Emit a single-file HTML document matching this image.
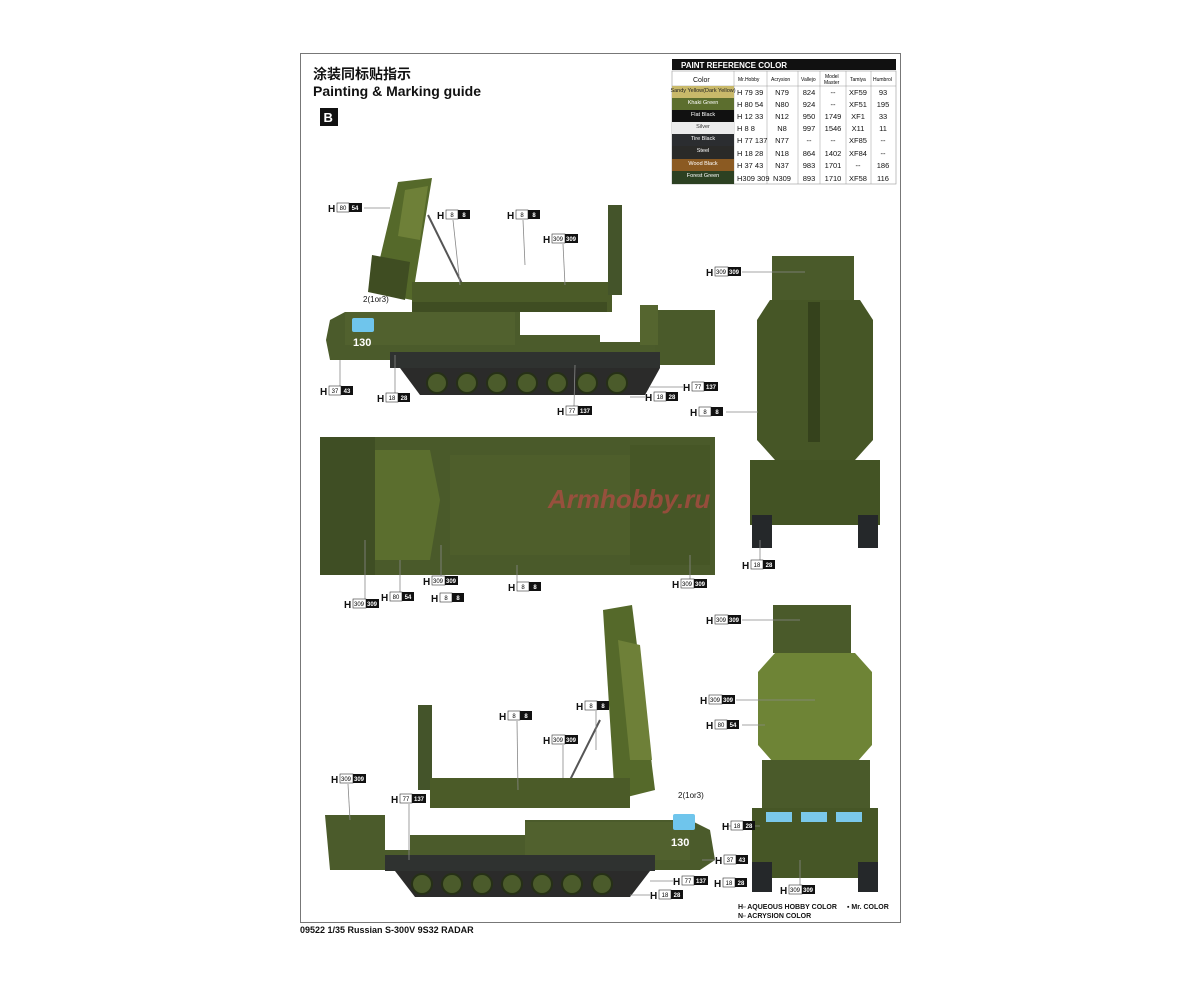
<!DOCTYPE html>
<html><head><meta charset="utf-8"><style>
body{margin:0;background:#fff;}
svg{display:block;font-family:"Liberation Sans","Noto Sans CJK SC",sans-serif;}
.l{font-size:10px;font-weight:bold;fill:#111}
.n{font-size:6px;fill:#000}
.nw{font-size:6px;fill:#fff;font-weight:bold}
.t{font-size:7px;fill:#111}
.ln{stroke:#888;stroke-width:0.8;fill:none}
</style></head><body>
<svg width="1200" height="982" viewBox="0 0 1200 982" xmlns="http://www.w3.org/2000/svg">
<rect x="300.5" y="53.5" width="600" height="869" fill="#fff" stroke="#777" stroke-width="1"/>
<text x="313" y="79" font-size="14" font-weight="bold" fill="#111">涂装同标贴指示</text>
<text x="313" y="96" font-size="14" font-weight="bold" fill="#111">Painting &amp; Marking guide</text>
<rect x="320" y="108" width="18" height="18" fill="#111"/><text x="323.5" y="122" font-size="13" font-weight="bold" fill="#fff">B</text>

<!-- table -->
<g>
<rect x="672" y="59" width="224" height="11" fill="#111"/>
<text x="681" y="68" font-size="8" font-weight="bold" fill="#fff">PAINT  REFERENCE COLOR</text>
<rect x="672" y="71" width="224" height="113" fill="#fff" stroke="#999" stroke-width="0.6"/>
<g stroke="#999" stroke-width="0.5">
<line x1="734" y1="71" x2="734" y2="184"/><line x1="767" y1="71" x2="767" y2="184"/><line x1="798" y1="71" x2="798" y2="184"/><line x1="820" y1="71" x2="820" y2="184"/><line x1="846" y1="71" x2="846" y2="184"/><line x1="871" y1="71" x2="871" y2="184"/>
<line x1="672" y1="86" x2="896" y2="86"/>
</g>
<text x="693" y="82" class="t">Color</text><text x="738" y="81" font-size="5">Mr.Hobby</text><text x="771" y="81" font-size="5">Acrysion</text><text x="801" y="81" font-size="5">Vallejo</text><text x="825" y="78" font-size="5">Model</text><text x="824" y="84" font-size="5">Master</text><text x="850" y="81" font-size="5">Tamiya</text><text x="873" y="81" font-size="5">Humbrol</text>
<rect x="672" y="86" width="62" height="12" fill="#c9b96a"/>
<rect x="672" y="98" width="62" height="12" fill="#5c6e2e"/>
<rect x="672" y="110" width="62" height="12" fill="#111"/>
<rect x="672" y="122" width="62" height="12" fill="#ececec"/>
<rect x="672" y="134" width="62" height="12" fill="#2b2d30"/>
<rect x="672" y="146" width="62" height="13" fill="#2a2a28"/>
<rect x="672" y="159" width="62" height="12" fill="#8b5a22"/>
<rect x="672" y="171" width="62" height="13" fill="#2c4122"/>
<g font-size="5.5" text-anchor="middle">
<text x="703" y="92" fill="#222">Sandy Yellow(Dark Yellow)</text>
<text x="703" y="104" fill="#fff">Khaki Green</text>
<text x="703" y="116" fill="#fff">Flat Black</text>
<text x="703" y="128" fill="#333">Silver</text>
<text x="703" y="140" fill="#fff">Tire Black</text>
<text x="703" y="152" fill="#fff">Steel</text>
<text x="703" y="165" fill="#fff">Wood Black</text>
<text x="703" y="177" fill="#fff">Forest Green</text>
</g>
<g font-size="7.5" fill="#111" text-anchor="middle">
<text x="782" y="95">N79</text><text x="809" y="95">824</text><text x="833" y="95">--</text><text x="858" y="95">XF59</text><text x="883" y="95">93</text>
<text x="782" y="107">N80</text><text x="809" y="107">924</text><text x="833" y="107">--</text><text x="858" y="107">XF51</text><text x="883" y="107">195</text>
<text x="782" y="119">N12</text><text x="809" y="119">950</text><text x="833" y="119">1749</text><text x="858" y="119">XF1</text><text x="883" y="119">33</text>
<text x="782" y="131">N8</text><text x="809" y="131">997</text><text x="833" y="131">1546</text><text x="858" y="131">X11</text><text x="883" y="131">11</text>
<text x="782" y="143">N77</text><text x="809" y="143">--</text><text x="833" y="143">--</text><text x="858" y="143">XF85</text><text x="883" y="143">--</text>
<text x="782" y="156">N18</text><text x="809" y="156">864</text><text x="833" y="156">1402</text><text x="858" y="156">XF84</text><text x="883" y="156">--</text>
<text x="782" y="168">N37</text><text x="809" y="168">983</text><text x="833" y="168">1701</text><text x="858" y="168">--</text><text x="883" y="168">186</text>
<text x="782" y="181">N309</text><text x="809" y="181">893</text><text x="833" y="181">1710</text><text x="858" y="181">XF58</text><text x="883" y="181">116</text>
</g>
<g font-size="7.5" fill="#111">
<text x="737" y="95">H 79 39</text><text x="737" y="107">H 80 54</text><text x="737" y="119">H 12 33</text><text x="737" y="131">H 8 8</text><text x="737" y="143">H 77 137</text><text x="737" y="156">H 18 28</text><text x="737" y="168">H 37 43</text><text x="737" y="181">H309 309</text>
</g>
</g>

<!-- ===== SIDE VIEW 1 ===== -->
<g>
<!-- radar panel -->
<polygon points="398,182 432,178 412,300 372,292" fill="#55692a"/>
<polygon points="405,190 428,186 420,240 398,236" fill="#6e8038"/>
<polygon points="372,255 410,262 405,300 368,292" fill="#3f4d22"/>
<line x1="428" y1="215" x2="470" y2="300" stroke="#555" stroke-width="2"/>
<!-- beam -->
<rect x="412" y="282" width="200" height="30" fill="#4b5b28"/>
<rect x="412" y="302" width="195" height="10" fill="#3f4d22"/>
<rect x="608" y="205" width="14" height="90" fill="#44542a"/>
<!-- hull -->
<polygon points="330,320 345,312 520,312 520,335 600,335 600,342 660,342 662,360 330,360 326,340" fill="#4b5b2b"/>
<rect x="345" y="312" width="170" height="33" fill="#51612e"/>
<rect x="655" y="310" width="60" height="55" fill="#4a5a2a"/>
<rect x="640" y="305" width="18" height="40" fill="#55652f"/>
<rect x="352" y="318" width="22" height="14" rx="2" fill="#6fc5ec"/>
<text x="353" y="346" font-size="11" font-weight="bold" fill="#fff">130</text>
<!-- skirt -->
<rect x="390" y="352" width="270" height="16" fill="#2f3230"/>
<polygon points="400,368 660,368 645,395 420,395" fill="#2b2b2a"/>
<g fill="#4b5b2b" stroke="#263016" stroke-width="2">
<circle cx="437" cy="383" r="10"/><circle cx="467" cy="383" r="10"/><circle cx="497" cy="383" r="10"/><circle cx="527" cy="383" r="10"/><circle cx="557" cy="383" r="10"/><circle cx="587" cy="383" r="10"/><circle cx="617" cy="383" r="10"/>
</g>
</g>

<!-- ===== FRONT VIEW 1 ===== -->
<g>
<rect x="772" y="256" width="82" height="46" fill="#4a5a2a"/>
<polygon points="770,300 860,300 873,320 873,440 855,460 775,460 757,440 757,320" fill="#465626"/>
<rect x="808" y="302" width="12" height="140" fill="#35421c"/>
<rect x="750" y="460" width="130" height="65" fill="#435324"/>
<rect x="752" y="515" width="20" height="33" fill="#25282a"/><rect x="858" y="515" width="20" height="33" fill="#25282a"/>
</g>

<!-- ===== TOP VIEW ===== -->
<g>
<rect x="320" y="437" width="395" height="138" fill="#4a5a2a"/>
<rect x="320" y="437" width="55" height="138" fill="#3f4e24"/>
<polygon points="375,450 430,450 440,500 430,560 375,560" fill="#5b6e2e"/>
<rect x="450" y="455" width="180" height="100" fill="#4e5e2b"/>
<rect x="630" y="445" width="80" height="120" fill="#465626"/>
<text x="548" y="508" font-size="26" font-style="italic" font-weight="bold" fill="#c8484a" opacity="0.6">Armhobby.ru</text>
</g>

<!-- ===== SIDE VIEW 2 ===== -->
<g>
<polygon points="603,610 632,605 655,790 615,800" fill="#55692a"/>
<polygon points="618,640 640,645 652,760 630,760" fill="#6e8038"/>
<line x1="600" y1="720" x2="560" y2="800" stroke="#555" stroke-width="2"/>
<rect x="418" y="705" width="14" height="85" fill="#44542a"/>
<rect x="430" y="778" width="200" height="30" fill="#4b5b28"/>
<polygon points="325,815 385,815 385,850 410,850 410,835 525,835 525,820 690,820 710,830 715,860 700,870 330,870" fill="#4b5b2b"/>
<rect x="525" y="822" width="165" height="38" fill="#51612e"/>
<rect x="673" y="814" width="22" height="16" rx="2" fill="#6fc5ec"/>
<text x="671" y="846" font-size="11" font-weight="bold" fill="#fff">130</text>
<rect x="385" y="855" width="270" height="16" fill="#2f3230"/>
<polygon points="395,871 650,871 630,897 415,897" fill="#2b2b2a"/>
<g fill="#4b5b2b" stroke="#263016" stroke-width="2">
<circle cx="422" cy="884" r="10"/><circle cx="452" cy="884" r="10"/><circle cx="482" cy="884" r="10"/><circle cx="512" cy="884" r="10"/><circle cx="542" cy="884" r="10"/><circle cx="572" cy="884" r="10"/><circle cx="602" cy="884" r="10"/>
</g>
</g>

<!-- ===== FRONT VIEW 2 ===== -->
<g>
<rect x="773" y="605" width="78" height="48" fill="#4a5a2a"/>
<polygon points="775,653 855,653 872,672 872,745 850,770 780,770 758,745 758,672" fill="#6e8436"/>
<rect x="762" y="760" width="108" height="50" fill="#4a5a2a"/>
<rect x="752" y="808" width="126" height="70" fill="#465626"/>
<rect x="766" y="812" width="26" height="10" fill="#7ac8ea"/><rect x="801" y="812" width="26" height="10" fill="#7ac8ea"/><rect x="836" y="812" width="26" height="10" fill="#7ac8ea"/>
<rect x="752" y="862" width="20" height="30" fill="#25282a"/><rect x="858" y="862" width="20" height="30" fill="#25282a"/>
</g>

<!-- leader lines -->
<g class="ln">
<line x1="364" y1="208" x2="390" y2="208"/><line x1="453" y1="220" x2="460" y2="285"/><line x1="523" y1="220" x2="525" y2="265"/><line x1="563" y1="244" x2="565" y2="285"/>
<line x1="340" y1="386" x2="340" y2="360"/><line x1="395" y1="393" x2="395" y2="355"/><line x1="574" y1="406" x2="575" y2="365"/><line x1="645" y1="397" x2="630" y2="397"/><line x1="683" y1="387" x2="650" y2="387"/>
<line x1="742" y1="272" x2="805" y2="272"/><line x1="726" y1="412" x2="758" y2="412"/><line x1="760" y1="560" x2="760" y2="540"/>
<line x1="365" y1="599" x2="365" y2="540"/><line x1="400" y1="592" x2="400" y2="560"/><line x1="441" y1="576" x2="441" y2="545"/><line x1="517" y1="582" x2="517" y2="565"/><line x1="690" y1="579" x2="690" y2="555"/>
<line x1="742" y1="620" x2="800" y2="620"/><line x1="736" y1="700" x2="815" y2="700"/><line x1="742" y1="725" x2="765" y2="725"/>
<line x1="517" y1="721" x2="518" y2="790"/><line x1="596" y1="711" x2="596" y2="750"/><line x1="563" y1="745" x2="563" y2="778"/><line x1="348" y1="784" x2="350" y2="820"/><line x1="409" y1="804" x2="409" y2="860"/>
<line x1="722" y1="826" x2="760" y2="826"/><line x1="715" y1="860" x2="702" y2="860"/><line x1="673" y1="881" x2="650" y2="881"/><line x1="650" y1="895" x2="630" y2="895"/><line x1="800" y1="886" x2="800" y2="860"/>
</g>

<!-- labels -->
<g class="l">
<text x="328" y="212">H</text><text x="437" y="219">H</text><text x="507" y="219">H</text><text x="543" y="243">H</text>
<text x="320" y="395">H</text><text x="377" y="402">H</text><text x="557" y="415">H</text><text x="645" y="401">H</text><text x="683" y="391">H</text>
<text x="706" y="276">H</text><text x="690" y="416">H</text><text x="742" y="569">H</text>
<text x="344" y="608">H</text><text x="381" y="601">H</text><text x="423" y="585">H</text><text x="431" y="602">H</text><text x="508" y="591">H</text><text x="672" y="588">H</text>
<text x="706" y="624">H</text><text x="700" y="704">H</text><text x="706" y="729">H</text>
<text x="499" y="720">H</text><text x="576" y="710">H</text><text x="543" y="744">H</text><text x="331" y="783">H</text><text x="391" y="803">H</text>
<text x="722" y="830">H</text><text x="715" y="864">H</text><text x="673" y="885">H</text><text x="714" y="887">H</text><text x="650" y="899">H</text><text x="780" y="894">H</text>
</g>
<g>
<!-- box pairs: white then black -->
<g fill="#fff" stroke="#333" stroke-width="0.6">
<rect x="337" y="203" width="12" height="9"/><rect x="446" y="210" width="12" height="9"/><rect x="516" y="210" width="12" height="9"/><rect x="552" y="234" width="13" height="9"/>
<rect x="329" y="386" width="12" height="9"/><rect x="386" y="393" width="12" height="9"/><rect x="566" y="406" width="12" height="9"/><rect x="654" y="392" width="12" height="9"/><rect x="692" y="382" width="12" height="9"/>
<rect x="715" y="267" width="13" height="9"/><rect x="699" y="407" width="12" height="9"/><rect x="751" y="560" width="12" height="9"/>
<rect x="353" y="599" width="13" height="9"/><rect x="390" y="592" width="12" height="9"/><rect x="432" y="576" width="13" height="9"/><rect x="440" y="593" width="12" height="9"/><rect x="517" y="582" width="12" height="9"/><rect x="681" y="579" width="13" height="9"/>
<rect x="715" y="615" width="13" height="9"/><rect x="709" y="695" width="13" height="9"/><rect x="715" y="720" width="12" height="9"/>
<rect x="508" y="711" width="12" height="9"/><rect x="585" y="701" width="12" height="9"/><rect x="552" y="735" width="13" height="9"/><rect x="340" y="774" width="13" height="9"/><rect x="400" y="794" width="12" height="9"/>
<rect x="731" y="821" width="12" height="9"/><rect x="724" y="855" width="12" height="9"/><rect x="682" y="876" width="12" height="9"/><rect x="723" y="878" width="12" height="9"/><rect x="659" y="890" width="12" height="9"/><rect x="789" y="885" width="13" height="9"/>
</g>
<g fill="#111">
<rect x="349" y="203" width="13" height="9"/><rect x="458" y="210" width="12" height="9"/><rect x="528" y="210" width="12" height="9"/><rect x="565" y="234" width="13" height="9"/>
<rect x="341" y="386" width="12" height="9"/><rect x="398" y="393" width="12" height="9"/><rect x="578" y="406" width="14" height="9"/><rect x="666" y="392" width="12" height="9"/><rect x="704" y="382" width="14" height="9"/>
<rect x="728" y="267" width="13" height="9"/><rect x="711" y="407" width="12" height="9"/><rect x="763" y="560" width="12" height="9"/>
<rect x="366" y="599" width="13" height="9"/><rect x="402" y="592" width="12" height="9"/><rect x="445" y="576" width="13" height="9"/><rect x="452" y="593" width="12" height="9"/><rect x="529" y="582" width="12" height="9"/><rect x="694" y="579" width="13" height="9"/>
<rect x="728" y="615" width="13" height="9"/><rect x="722" y="695" width="13" height="9"/><rect x="727" y="720" width="12" height="9"/>
<rect x="520" y="711" width="12" height="9"/><rect x="597" y="701" width="12" height="9"/><rect x="565" y="735" width="13" height="9"/><rect x="353" y="774" width="13" height="9"/><rect x="412" y="794" width="14" height="9"/>
<rect x="743" y="821" width="12" height="9"/><rect x="736" y="855" width="12" height="9"/><rect x="694" y="876" width="14" height="9"/><rect x="735" y="878" width="12" height="9"/><rect x="671" y="890" width="12" height="9"/><rect x="802" y="885" width="13" height="9"/>
</g>
<g class="n" text-anchor="middle">
<text x="343" y="210">80</text><text x="452" y="217">8</text><text x="522" y="217">8</text><text x="558" y="241">309</text>
<text x="335" y="393">37</text><text x="392" y="400">18</text><text x="572" y="413">77</text><text x="660" y="399">18</text><text x="698" y="389">77</text>
<text x="721" y="274">309</text><text x="705" y="414">8</text><text x="757" y="567">18</text>
<text x="359" y="606">309</text><text x="396" y="599">80</text><text x="438" y="583">309</text><text x="446" y="600">8</text><text x="523" y="589">8</text><text x="687" y="586">309</text>
<text x="721" y="622">309</text><text x="715" y="702">309</text><text x="721" y="727">80</text>
<text x="514" y="718">8</text><text x="591" y="708">8</text><text x="558" y="742">309</text><text x="346" y="781">309</text><text x="406" y="801">77</text>
<text x="737" y="828">18</text><text x="730" y="862">37</text><text x="688" y="883">77</text><text x="729" y="885">18</text><text x="665" y="897">18</text><text x="795" y="892">309</text>
</g>
<g class="nw" text-anchor="middle">
<text x="355" y="210">54</text><text x="464" y="217">8</text><text x="534" y="217">8</text><text x="571" y="241">309</text>
<text x="347" y="393">43</text><text x="404" y="400">28</text><text x="585" y="413">137</text><text x="672" y="399">28</text><text x="711" y="389">137</text>
<text x="734" y="274">309</text><text x="717" y="414">8</text><text x="769" y="567">28</text>
<text x="372" y="606">309</text><text x="408" y="599">54</text><text x="451" y="583">309</text><text x="458" y="600">8</text><text x="535" y="589">8</text><text x="700" y="586">309</text>
<text x="734" y="622">309</text><text x="728" y="702">309</text><text x="733" y="727">54</text>
<text x="526" y="718">8</text><text x="603" y="708">8</text><text x="571" y="742">309</text><text x="359" y="781">309</text><text x="419" y="801">137</text>
<text x="749" y="828">28</text><text x="742" y="862">43</text><text x="701" y="883">137</text><text x="741" y="885">28</text><text x="677" y="897">28</text><text x="808" y="892">309</text>
</g>
</g>
<text x="363" y="302" font-size="8" fill="#111">2(1or3)</text>
<text x="678" y="798" font-size="8" fill="#111">2(1or3)</text>

<!-- legend -->
<g font-size="7" font-weight="bold" fill="#111">
<text x="738" y="909">H▫ AQUEOUS HOBBY COLOR</text>
<text x="847" y="909">▪ Mr. COLOR</text>
<text x="738" y="918">N▫ ACRYSION COLOR</text>
</g>
<text x="300" y="933" font-size="9" font-weight="bold" fill="#111">09522 1/35 Russian S-300V 9S32 RADAR</text>
</svg>
</body></html>
